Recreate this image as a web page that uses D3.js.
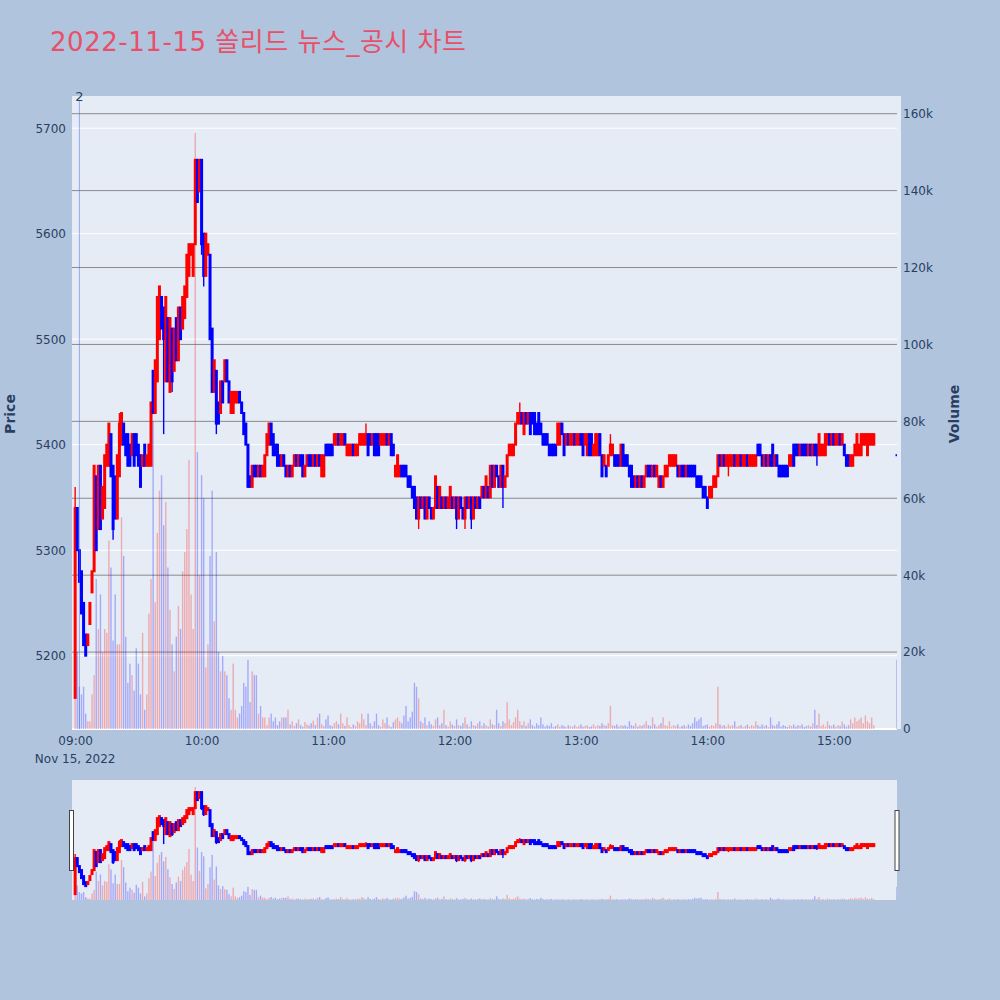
<!DOCTYPE html>
<html>
<head>
<meta charset="utf-8">
<script src="https://cdn.jsdelivr.net/npm/d3@7"></script>
<style>
  body { margin: 0; background: #b0c4de; }
  svg text { font-family: "DejaVu Sans", "Noto Sans CJK KR", sans-serif; }
</style>
</head>
<body>
<svg id="chart" width="1000" height="1000"></svg>
<script>
const chartTitle = "2022-11-15 쏠리드 뉴스_공시 차트";
const tradeDate = "2022-11-15";
const closingAuction = "15:30";

// one candle per minute from 09:00 to 15:19, then the 15:30 auction print
const opens = [
  5160,5340,5300,5280,5250,5220,5210,5230,5260,5280,
  5370,5320,5380,5330,5340,5380,5380,5410,5380,5370,
  5330,5370,5400,5420,5410,5410,5400,5390,5410,5410,
  5400,5390,5380,5400,5380,5380,5380,5470,5430,5460,
  5500,5540,5530,5460,5520,5450,5510,5470,5520,5480,
  5530,5510,5520,5540,5560,5580,5560,5590,5670,5640,
  5670,5600,5560,5580,5580,5510,5450,5470,5440,5430,
  5460,5460,5480,5460,5430,5430,5440,5440,5450,5440,
  5430,5420,5400,5370,5360,5380,5380,5370,5380,5370,
  5370,5390,5400,5420,5410,5400,5400,5390,5380,5390,
  5380,5370,5380,5370,5380,5390,5380,5390,5390,5370,
  5380,5390,5390,5380,5390,5380,5390,5370,5370,5400,
  5400,5400,5400,5400,5400,5410,5400,5400,5410,5390,
  5390,5390,5400,5390,5390,5400,5400,5400,5400,5410,
  5410,5400,5410,5410,5410,5400,5400,5400,5410,5400,
  5410,5400,5370,5370,5370,5380,5380,5380,5370,5370,
  5360,5360,5350,5330,5350,5340,5350,5330,5350,5340,
  5330,5340,5360,5340,5350,5340,5350,5340,5340,5350,
  5340,5350,5330,5350,5340,5330,5350,5340,5350,5330,
  5350,5340,5350,5350,5360,5350,5360,5350,5380,5360,
  5380,5370,5360,5380,5360,5370,5390,5390,5390,5400,
  5420,5420,5430,5410,5430,5420,5430,5430,5430,5420,
  5430,5420,5410,5410,5410,5400,5400,5400,5400,5400,
  5400,5420,5410,5400,5410,5400,5400,5410,5400,5400,
  5410,5410,5400,5390,5410,5410,5390,5390,5390,5410,
  5390,5380,5380,5380,5390,5390,5390,5390,5390,5380,
  5400,5390,5390,5380,5380,5370,5360,5370,5360,5370,
  5360,5370,5380,5380,5370,5380,5370,5360,5370,5360,
  5370,5370,5380,5380,5380,5380,5380,5370,5380,5380,
  5370,5380,5380,5380,5380,5370,5370,5370,5360,5360,
  5350,5350,5350,5360,5360,5370,5390,5380,5390,5380,
  5380,5380,5380,5390,5380,5380,5390,5380,5380,5390,
  5380,5380,5380,5380,5400,5400,5390,5380,5390,5380,
  5390,5400,5380,5390,5380,5380,5380,5380,5380,5380,
  5380,5400,5400,5400,5390,5400,5400,5400,5390,5400,
  5390,5400,5400,5390,5390,5390,5390,5400,5410,5400,
  5410,5400,5400,5410,5400,5400,5390,5390,5380,5380,
  5390,5390,5390,5390,5400,5400,5390,5400,5400,5400,
  5390
];

const closes = [
  5340,5300,5270,5240,5210,5200,5220,5250,5280,5380,
  5300,5380,5320,5360,5390,5400,5420,5370,5320,5330,
  5390,5420,5430,5400,5390,5380,5380,5410,5380,5390,
  5380,5360,5390,5380,5390,5400,5440,5430,5480,5540,
  5550,5510,5500,5540,5460,5520,5460,5510,5480,5530,
  5500,5540,5550,5580,5590,5590,5590,5670,5630,5670,
  5590,5560,5600,5590,5500,5450,5480,5420,5420,5460,
  5440,5480,5460,5440,5450,5450,5450,5450,5440,5430,
  5410,5400,5360,5360,5380,5370,5370,5380,5370,5380,
  5390,5410,5420,5400,5390,5390,5380,5380,5390,5380,
  5370,5380,5370,5380,5390,5380,5390,5380,5370,5380,
  5390,5380,5380,5390,5380,5390,5380,5390,5390,5390,
  5390,5390,5390,5410,5410,5400,5410,5410,5400,5400,
  5400,5400,5390,5400,5400,5410,5410,5410,5410,5390,
  5400,5410,5390,5390,5390,5410,5410,5410,5400,5410,
  5390,5390,5380,5390,5380,5370,5370,5370,5360,5360,
  5350,5340,5330,5350,5340,5350,5330,5350,5340,5330,
  5340,5370,5340,5360,5340,5350,5340,5350,5360,5340,
  5350,5330,5350,5340,5330,5350,5340,5350,5330,5350,
  5340,5350,5340,5360,5350,5370,5350,5380,5360,5380,
  5370,5360,5380,5360,5370,5390,5400,5400,5400,5420,
  5430,5430,5420,5430,5420,5430,5410,5420,5410,5410,
  5410,5410,5400,5400,5400,5390,5390,5390,5390,5420,
  5420,5410,5390,5410,5400,5410,5410,5400,5410,5410,
  5400,5390,5410,5410,5390,5390,5400,5410,5410,5390,
  5370,5390,5370,5390,5400,5400,5380,5380,5380,5400,
  5380,5380,5380,5370,5360,5360,5370,5360,5370,5360,
  5370,5380,5370,5370,5380,5370,5380,5370,5360,5370,
  5380,5380,5390,5390,5390,5390,5370,5380,5370,5370,
  5380,5370,5370,5370,5370,5360,5360,5360,5350,5350,
  5340,5360,5360,5370,5370,5390,5380,5390,5380,5390,
  5390,5390,5390,5380,5390,5390,5380,5390,5390,5380,
  5390,5390,5390,5390,5390,5390,5380,5390,5380,5390,
  5380,5380,5390,5380,5370,5370,5370,5370,5370,5390,
  5390,5380,5390,5390,5400,5390,5390,5390,5400,5390,
  5400,5390,5390,5410,5400,5400,5410,5410,5400,5410,
  5400,5410,5410,5400,5410,5390,5380,5380,5390,5390,
  5400,5410,5400,5410,5410,5410,5410,5410,5410,5410,
  5390
];

// visible wicks: [minute index, high, low]
const wicks = [
  [0, 5360, 5160], [18, 5380, 5310], [21, 5430, 5370], [42, 5530, 5410],
  [46, 5510, 5450], [60, 5670, 5580], [61, 5600, 5550], [67, 5470, 5410],
  [138, 5420, 5400], [163, 5350, 5320], [181, 5350, 5320], [185, 5350, 5320],
  [188, 5350, 5320], [203, 5380, 5340], [211, 5440, 5420], [254, 5410, 5390],
  [310, 5390, 5370], [352, 5400, 5380], [376, 5410, 5390]
];

// volume per minute, thousands of shares
const volumesK = [
  8,20,11,9,11,4,2,2,9,14,
  39,26,35,20,26,25,49,42,23,35,
  22,22,55,45,24,12,17,14,10,21,
  17,9,25,5,9,30,39,80,33,51,
  62,66,53,59,42,31,22,15,24,32,
  26,41,46,52,70,35,26,155,72,40,
  66,60,16,22,45,62,28,46,20,15,
  19,15,14,8,5,17,5,3,4,6,
  12,11,18,7,15,14,14,4,6,3,
  3,1,3,4,2,3,1,2,3,3,
  3,5,1.2,2.0,0.8,1.5,2.5,1.0,0.6,1.8,
  1.2,0.9,1.5,2.2,1.0,3.0,4.0,1.2,0.8,2.5,
  3.5,1.0,0.7,1.5,2.0,1.2,4.0,1.5,0.8,3.0,
  1.0,0.5,1.2,0.8,2.0,1.5,4.0,2.5,1.0,4.0,
  1.5,0.8,2.0,4.0,1.0,0.6,2.5,1.5,3.0,1.0,
  0.5,1.8,2.5,3.0,2.0,1.5,3.5,6.0,2.0,3.0,
  4.5,12.0,11.0,8.0,2.0,1.5,3.0,1.0,2.0,1.2,
  0.8,2.5,3.0,1.0,1.5,5.0,1.0,0.6,2.0,1.2,
  0.8,2.5,1.0,0.8,1.5,3.0,1.2,0.6,2.0,1.0,
  0.8,1.5,2.0,0.8,1.5,1.0,0.6,2.5,1.2,1.0,
  5.0,1.5,0.8,2.0,1.5,7.0,2.5,1.0,1.8,3.0,
  5.0,2.0,1.0,2.0,0.8,1.5,2.5,1.0,0.6,1.5,
  1.0,3.0,1.2,0.6,1.0,0.8,1.5,0.5,0.8,1.2,
  0.6,1.0,0.8,0.5,1.0,0.7,0.6,1.0,0.5,0.8,
  1.2,0.6,0.8,1.0,0.5,0.7,1.2,0.6,1.0,0.8,
  1.5,1.0,0.8,1.5,6.0,1.0,0.8,1.2,0.6,1.0,
  0.8,1.0,0.6,2.0,1.0,0.8,1.5,0.6,1.0,0.8,
  1.2,2.0,1.0,0.8,3.0,1.2,0.6,1.0,1.5,3.0,
  1.0,0.8,2.0,0.6,1.0,0.8,1.2,0.5,0.8,1.0,
  0.6,1.2,0.8,1.5,3.0,2.0,2.5,3.0,0.8,1.0,
  1.2,0.6,1.0,0.8,1.5,11.0,1.2,0.8,1.0,0.6,
  1.2,0.8,1.0,2.0,0.6,0.8,1.0,0.5,0.8,1.2,
  0.6,1.0,0.8,2.0,1.0,0.6,1.2,0.8,1.0,0.5,
  3.0,1.0,0.8,1.2,2.0,0.6,1.0,0.8,0.5,1.0,
  0.8,1.2,0.6,1.0,0.8,1.2,0.5,0.8,1.0,0.6,
  1.5,5.0,1.0,4.0,0.8,1.2,0.6,2.0,1.0,0.8,
  1.2,0.6,1.0,0.8,2.0,1.2,0.6,1.0,2.5,1.5,
  3.0,2.0,2.5,3.0,1.5,3.5,2.0,1.5,3.0,1.0,
  18.0
];

const newsTimes = ["09:02"];
const newsLabels = ["2"];

const priceTicks = [5200, 5300, 5400, 5500, 5600, 5700];
const volumeTicks = [0, 20000, 40000, 60000, 80000, 100000, 120000, 140000, 160000];
const timeTicks = ["09:00", "10:00", "11:00", "12:00", "13:00", "14:00", "15:00"];

const parseTime = d3.timeParse("%Y-%m-%d %H:%M");
const at = hm => parseTime(`${tradeDate} ${hm}`);

// build the candle table
const sessionOpen = at("09:00");
const candles = closes.map((close, i) => {
    const last = i === closes.length - 1;
    const open = opens[i];
    const w = wicks.find(d => d[0] === i);
    let up = close > open;
    if (close === open) up = i > 0 ? close >= closes[i - 1] : true;
    return {
        time: last ? at(closingAuction) : d3.timeMinute.offset(sessionOpen, i),
        open, close, up,
        high: Math.max(open, close, w ? w[1] : 0),
        low: Math.min(open, close, w ? w[2] : Infinity),
        volume: volumesK[i] * 1000
    };
});

const plot = { left: 72, right: 897, bgRight: 901, top: 96, bottom: 729 };
const slider = { top: 780, bottom: 900 };

const x = d3.scaleTime()
    .domain([d3.timeSecond.offset(sessionOpen, -90), at(closingAuction)])
    .range([plot.left, plot.right]);
const yPrice = d3.scaleLinear().domain([5130.5, 5730.5]).range([plot.bottom, plot.top]);
const yVol = d3.scaleLinear().domain([0, 164600]).range([plot.bottom, plot.top]);
const yPriceS = yPrice.copy().range([slider.bottom, slider.top]);
const yVolS = yVol.copy().range([slider.bottom, slider.top]);

const upColor = "#ff0000";
const downColor = "#0000ff";
const colorOf = d => d.up ? upColor : downColor;

const svg = d3.select("#chart");

svg.append("rect").attr("width", 1000).attr("height", 1000).attr("fill", "#b0c4de");

// title
svg.append("text")
    .attr("x", 50).attr("y", 51)
    .attr("font-size", 26)
    .attr("textLength", 416)
    .attr("lengthAdjust", "spacing")
    .attr("fill", "#e8506a")
    .text(chartTitle);

// plot background
svg.append("rect")
    .attr("x", plot.left).attr("y", plot.top)
    .attr("width", plot.bgRight - plot.left).attr("height", plot.bottom - plot.top)
    .attr("fill", "#e5ecf6");

// price grid (white)
svg.append("g").selectAll("line")
    .data(priceTicks)
    .enter().append("line")
    .attr("x1", plot.left).attr("x2", plot.right)
    .attr("y1", d => yPrice(d)).attr("y2", d => yPrice(d))
    .attr("stroke", "#ffffff").attr("stroke-width", 1);

// volume grid (grey)
svg.append("g").selectAll("line")
    .data(volumeTicks.filter(d => d > 0))
    .enter().append("line")
    .attr("x1", plot.left).attr("x2", plot.right)
    .attr("y1", d => yVol(d)).attr("y2", d => yVol(d))
    .attr("stroke", "#8a8a8a").attr("stroke-width", 1);

svg.append("line")
    .attr("x1", plot.left).attr("x2", plot.right)
    .attr("y1", yVol(0)).attr("y2", yVol(0))
    .attr("stroke", "#ffffff").attr("stroke-width", 2);

function drawCandles(g, yP, yV) {
    g.selectAll(".wick")
        .data(candles)
        .enter().append("line")
        .attr("class", "wick")
        .attr("x1", d => x(d.time)).attr("x2", d => x(d.time))
        .attr("y1", d => yP(d.high)).attr("y2", d => yP(d.low))
        .attr("stroke", colorOf).attr("stroke-width", 1.4);

    g.selectAll(".body")
        .data(candles)
        .enter().append("rect")
        .attr("class", "body")
        .attr("x", d => x(d.time) - 1.5)
        .attr("width", 3)
        .attr("y", d => yP(Math.max(d.open, d.close)) - 1)
        .attr("height", d => Math.abs(yP(d.open) - yP(d.close)) + 2)
        .attr("fill", colorOf);

    g.selectAll(".vol")
        .data(candles)
        .enter().append("rect")
        .attr("class", "vol")
        .attr("x", d => x(d.time) - 0.7)
        .attr("width", 1.4)
        .attr("y", d => yV(d.volume))
        .attr("height", d => yV(0) - yV(d.volume))
        .attr("fill", colorOf)
        .attr("fill-opacity", 0.28);
}

svg.append("clipPath").attr("id", "plotClip")
    .append("rect")
    .attr("x", plot.left).attr("y", plot.top)
    .attr("width", plot.right - plot.left).attr("height", plot.bottom - plot.top);

drawCandles(svg.append("g").attr("clip-path", "url(#plotClip)"), yPrice, yVol);

// news marker
const news = svg.append("g");
newsTimes.forEach((t, i) => {
    const nx = x(at(t));
    news.append("line")
        .attr("x1", nx).attr("x2", nx)
        .attr("y1", 100).attr("y2", plot.bottom)
        .attr("stroke", "royalblue").attr("stroke-opacity", 0.5).attr("stroke-width", 1);
    news.append("text")
        .attr("x", nx).attr("y", 100.5)
        .attr("text-anchor", "middle")
        .attr("font-size", 13)
        .attr("fill", "#2a3f5f")
        .text(newsLabels[i]);
});

// axes
const axisColor = "#2a3f5f";

const leftAxis = svg.append("g")
    .attr("transform", `translate(${plot.left},0)`)
    .call(d3.axisLeft(yPrice).tickValues(priceTicks).tickSize(0).tickPadding(6).tickFormat(d3.format("d")));
leftAxis.select(".domain").remove();
leftAxis.selectAll("text").attr("fill", axisColor).attr("font-size", 12)
    .style("font-family", "'DejaVu Sans', sans-serif");

const rightAxis = svg.append("g")
    .attr("transform", `translate(${plot.right},0)`)
    .call(d3.axisRight(yVol).tickValues(volumeTicks).tickSize(0).tickPadding(6)
        .tickFormat(d => d === 0 ? "0" : `${d / 1000}k`));
rightAxis.select(".domain").remove();
rightAxis.selectAll("text").attr("fill", axisColor).attr("font-size", 12)
    .style("font-family", "'DejaVu Sans', sans-serif");

const bottomAxis = svg.append("g")
    .attr("transform", `translate(0,${plot.bottom})`)
    .call(d3.axisBottom(x).tickValues(timeTicks.map(at)).tickSize(0).tickPadding(7)
        .tickFormat(d3.timeFormat("%H:%M")));
bottomAxis.select(".domain").remove();
bottomAxis.selectAll("text").attr("fill", axisColor).attr("font-size", 12)
    .style("font-family", "'DejaVu Sans', sans-serif");

svg.append("text")
    .attr("x", x(at(timeTicks[0]))).attr("y", 763)
    .attr("text-anchor", "middle")
    .attr("font-size", 12)
    .attr("fill", axisColor)
    .text(d3.timeFormat("%b %-d, %Y")(sessionOpen));

svg.append("text")
    .attr("transform", "translate(15,414) rotate(-90)")
    .attr("text-anchor", "middle")
    .attr("font-size", 14).attr("font-weight", "bold")
    .attr("fill", axisColor)
    .text("Price");

svg.append("text")
    .attr("transform", "translate(959,414) rotate(-90)")
    .attr("text-anchor", "middle")
    .attr("font-size", 14).attr("font-weight", "bold")
    .attr("fill", axisColor)
    .text("Volume");

// range slider
svg.append("rect")
    .attr("x", plot.left).attr("y", slider.top)
    .attr("width", plot.right - plot.left).attr("height", slider.bottom - slider.top)
    .attr("fill", "#e5ecf6");

svg.append("clipPath").attr("id", "sliderClip")
    .append("rect")
    .attr("x", plot.left).attr("y", slider.top)
    .attr("width", plot.right - plot.left).attr("height", slider.bottom - slider.top);

drawCandles(svg.append("g").attr("clip-path", "url(#sliderClip)"), yPriceS, yVolS);

[plot.left - 2.5, plot.right - 2].forEach(hx => {
    svg.append("rect")
        .attr("x", hx).attr("y", 810.5)
        .attr("width", 4).attr("height", 60)
        .attr("fill", "#ffffff")
        .attr("stroke", "#444").attr("stroke-width", 1);
});
</script>
</body>
</html>
